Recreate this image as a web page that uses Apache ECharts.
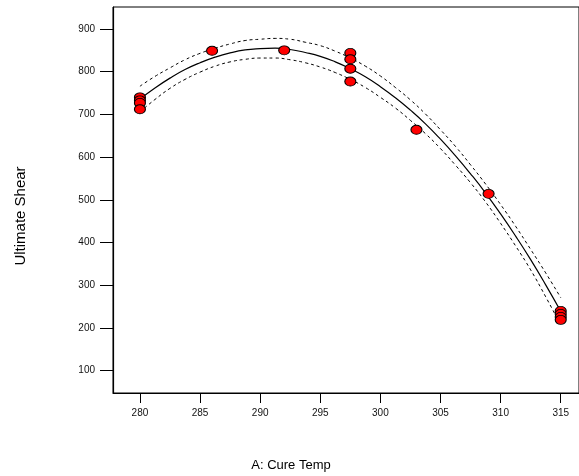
<!DOCTYPE html>
<html>
<head>
<meta charset="utf-8">
<script src="https://cdn.jsdelivr.net/npm/echarts@6/dist/echarts.min.js"></script>
<style>
  html, body { margin: 0; padding: 0; background: #ffffff; }
  #chart { width: 579px; height: 476px; }
</style>
</head>
<body>
<div id="chart"></div>
<script>
// Observed runs: cure temperature vs. ultimate shear
const cureTemp = [280, 280, 280, 280, 286, 292, 297.5, 297.5, 297.5, 297.5, 303, 309, 315, 315, 315, 315];
const shear    = [740, 733, 727, 712, 849, 850, 844, 829, 807, 777, 664, 514, 240, 233, 226, 219];

// Fitted response curve and its confidence band
const fitTemp = [280, 281.25, 282.5, 283.75, 285, 286.25, 287.5, 288.75, 290, 291.25,
                 292.5, 293.75, 295, 296.25, 297.5, 298.75, 300, 301.25, 302.5, 303.75,
                 305, 306.25, 307.5, 308.75, 310, 311.25, 312.5, 313.75, 315];
const fitShear = [736, 762, 785, 805, 821, 834, 844, 851, 854, 855,
                  852, 845, 836, 823, 807, 788, 765, 739, 710, 678,
                  642, 603, 561, 516, 467, 415, 360, 301, 239];
const upperBand = [766, 789, 809, 828, 843, 855, 865, 873, 876, 878,
                   876, 869, 861, 848, 832, 813, 790, 763, 734, 701,
                   664, 625, 582, 537, 489, 438, 384, 329, 271];
const lowerBand = [706, 735, 761, 782, 799, 813, 823, 829, 832, 832,
                   828, 821, 811, 798, 782, 763, 740, 715, 686, 655,
                   620, 581, 540, 495, 445, 392, 336, 273, 207];

// Tick labels
const xTicks = [280, 285, 290, 295, 300, 305, 310, 315];
const yTicks = [100, 200, 300, 400, 500, 600, 700, 800, 900];

const pairs = (xs, ys) => xs.map((x, i) => [x, ys[i]]);

const FONT = '"Liberation Sans", Arial, sans-serif';
const chart = echarts.init(document.getElementById('chart'), null, { renderer: 'canvas' });

const lineBase = {
  type: 'line',
  smooth: true,
  showSymbol: false,
  symbol: 'none',
  silent: true,
  z: 2
};

chart.setOption({
  animation: false,
  backgroundColor: '#ffffff',
  grid: {
    left: 113, top: 7, right: -1, bottom: 83,
    show: true, borderColor: '#000', borderWidth: 1, backgroundColor: 'transparent'
  },
  xAxis: {
    type: 'value',
    min: 277.76, max: 316.52,
    splitLine: { show: false },
    axisLine: { show: true, onZero: false, lineStyle: { color: '#000', width: 1.2 } },
    axisTick: { show: true, inside: false, length: 10, customValues: xTicks, lineStyle: { color: '#000', width: 1 } },
    axisLabel: { customValues: xTicks, margin: 15, color: '#111', fontSize: 10, fontFamily: FONT }
  },
  yAxis: {
    type: 'value',
    min: 47.8, max: 951.5,
    splitLine: { show: false },
    axisLine: { show: true, onZero: false, lineStyle: { color: '#000', width: 1.2 } },
    axisTick: { show: true, inside: false, length: 13, customValues: yTicks, lineStyle: { color: '#000', width: 1 } },
    axisLabel: { customValues: yTicks, margin: 18, color: '#111', fontSize: 10, fontFamily: FONT }
  },
  graphic: [
    {
      type: 'text', x: 21, y: 216, rotation: Math.PI / 2,
      style: { text: 'Ultimate Shear', fill: '#000', font: '15px ' + FONT, align: 'center', verticalAlign: 'middle' }
    },
    {
      type: 'text', x: 291, y: 465,
      style: { text: 'A: Cure Temp', fill: '#000', font: '13px ' + FONT, align: 'center', verticalAlign: 'middle' }
    }
  ],
  series: [
    Object.assign({}, lineBase, {
      name: 'upper', data: pairs(fitTemp, upperBand),
      lineStyle: { color: '#000', width: 1, type: [3, 3] }
    }),
    Object.assign({}, lineBase, {
      name: 'lower', data: pairs(fitTemp, lowerBand),
      lineStyle: { color: '#000', width: 1, type: [3, 3] }
    }),
    Object.assign({}, lineBase, {
      name: 'fit', data: pairs(fitTemp, fitShear),
      lineStyle: { color: '#000', width: 1.2 }
    }),
    {
      type: 'scatter',
      name: 'runs',
      data: pairs(cureTemp, shear),
      symbol: 'circle',
      symbolSize: [11, 9],
      itemStyle: { color: '#ff0000', borderColor: '#000', borderWidth: 1, opacity: 1 },
      z: 5,
      silent: true
    }
  ]
});
</script>
</body>
</html>
